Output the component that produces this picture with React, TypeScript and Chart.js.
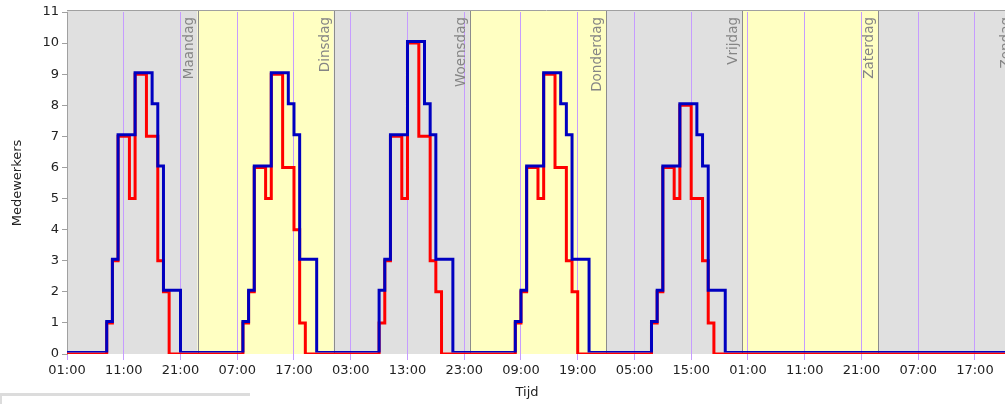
import { useEffect, useRef } from 'react';
import { Chart, registerables } from 'chart.js';

Chart.register(...registerables);

// Hours since midnight of the first day; value holds until next change
const staffHours = [1, 8, 9, 10, 13, 16, 17, 18, 21, 32, 33, 34, 37, 40, 41, 42, 45, 56, 57, 58, 61, 64, 65, 66, 69, 80, 81, 82, 85, 88, 89, 90, 93, 104, 105, 106, 109, 112, 113, 114, 117, 170];
const staffValues = [0, 1, 3, 7, 9, 8, 6, 2, 0, 1, 2, 6, 9, 8, 7, 3, 0, 2, 3, 7, 10, 8, 7, 3, 0, 1, 2, 6, 9, 8, 7, 3, 0, 1, 2, 6, 8, 7, 6, 2, 0, 0];

const demandHours = [1, 8, 9, 10, 12, 13, 15, 17, 18, 19, 32, 33, 34, 36, 37, 39, 41, 42, 43, 56, 57, 58, 60, 61, 63, 65, 66, 67, 80, 81, 82, 84, 85, 87, 89, 90, 91, 104, 105, 106, 108, 109, 111, 113, 114, 115, 170];
const demandValues = [0, 1, 3, 7, 5, 9, 7, 3, 2, 0, 1, 2, 6, 5, 9, 6, 4, 1, 0, 1, 3, 7, 5, 10, 7, 3, 2, 0, 1, 2, 6, 5, 9, 6, 3, 2, 0, 1, 2, 6, 5, 8, 5, 3, 1, 0, 0];

const tickHours = [1, 11, 21, 31, 41, 51, 61, 71, 81, 91, 101, 111, 121, 131, 141, 151, 161];
const tickLabels = ['01:00', '11:00', '21:00', '07:00', '17:00', '03:00', '13:00', '23:00', '09:00', '19:00', '05:00', '15:00', '01:00', '11:00', '21:00', '07:00', '17:00'];

const dayBoundaryHours = [24, 48, 72, 96, 120, 144, 168];
const dayNames = ['Maandag', 'Dinsdag', 'Woensdag', 'Donderdag', 'Vrijdag', 'Zaterdag', 'Zondag'];

const X_MIN = 1;
const X_MAX = 170;
const FONT = 'DejaVu Sans';

const bandPlugin = {
  id: 'dayBands',
  beforeDraw(chart: any) {
    const { ctx, chartArea, scales } = chart;
    const x = scales.x;
    const edges = [X_MIN, ...dayBoundaryHours, X_MAX];
    const top = chartArea.top - 1;
    ctx.save();
    for (let i = 0; i < edges.length - 1; i++) {
      const a = x.getPixelForValue(Math.max(edges[i], X_MIN));
      const b = x.getPixelForValue(Math.min(edges[i + 1], X_MAX));
      ctx.fillStyle = i % 2 === 0 ? '#e0e0e0' : '#ffffc2';
      ctx.fillRect(a, top, b - a, chartArea.bottom - top);
    }
    ctx.restore();
  },
  beforeDatasetsDraw(chart: any) {
    const { ctx, chartArea, scales } = chart;
    const x = scales.x;
    const top = chartArea.top - 1;
    ctx.save();
    ctx.strokeStyle = '#a0a0a0';
    ctx.lineWidth = 1;
    ctx.beginPath();
    ctx.moveTo(chartArea.left, Math.round(top) - 0.5);
    ctx.lineTo(chartArea.right, Math.round(top) - 0.5);
    ctx.stroke();
    dayBoundaryHours.forEach((h, i) => {
      const px = Math.round(x.getPixelForValue(h)) + 0.5;
      ctx.strokeStyle = '#8c8c8c';
      ctx.beginPath();
      ctx.moveTo(px, top);
      ctx.lineTo(px, chartArea.bottom);
      ctx.stroke();
      ctx.save();
      ctx.translate(px - 2.5, top + 6);
      ctx.rotate(-Math.PI / 2);
      ctx.font = `13.5px "${FONT}"`;
      ctx.fillStyle = '#858585';
      ctx.textAlign = 'right';
      ctx.textBaseline = 'bottom';
      ctx.fillText(dayNames[i], 0, 0);
      ctx.restore();
    });
    ctx.restore();
  },
  beforeDatasetDraw(chart: any, args: any) {
    if (chart.data.datasets[args.index].label === 'Ingepland') {
      chart.ctx.save();
      chart.ctx.translate(0, -1.5);
    }
  },
  afterDatasetDraw(chart: any, args: any) {
    if (chart.data.datasets[args.index].label === 'Ingepland') {
      chart.ctx.restore();
    }
  },
  afterDraw(chart: any) {
    const { ctx } = chart;
    ctx.save();
    ctx.font = `13px "${FONT}"`;
    ctx.fillStyle = '#222';
    ctx.textAlign = 'center';
    ctx.textBaseline = 'middle';
    ctx.fillText('Tijd', 527, 393);
    ctx.restore();
  },
};

export default function App() {
  const canvasRef = useRef<HTMLCanvasElement | null>(null);

  useEffect(() => {
    if (!canvasRef.current) return;
    const chart = new Chart(canvasRef.current, {
      type: 'line',
      data: {
        datasets: [
          {
            label: 'Benodigd',
            data: demandHours.map((h, i) => ({ x: h, y: demandValues[i] })),
            borderColor: '#ff0000',
            borderWidth: 3,
            stepped: true,
            pointRadius: 0,
            fill: false,
            borderJoinStyle: 'miter',
            borderCapStyle: 'butt',
            order: 2,
          },
          {
            label: 'Ingepland',
            data: staffHours.map((h, i) => ({ x: h, y: staffValues[i] })),
            borderColor: '#0000c0',
            borderWidth: 3,
            stepped: true,
            pointRadius: 0,
            fill: false,
            borderJoinStyle: 'miter',
            borderCapStyle: 'butt',
            order: 1,
          },
        ],
      },
      options: {
        animation: false,
        responsive: true,
        maintainAspectRatio: false,
        layout: { padding: { left: 0, right: 0, top: 12, bottom: 0 } },
        plugins: {
          legend: { display: false },
          tooltip: { enabled: false },
        },
        font: { family: FONT, size: 13 },
        scales: {
          x: {
            type: 'linear',
            min: X_MIN,
            max: X_MAX,
            afterBuildTicks: (s: any) => {
              s.ticks = tickHours.map((v) => ({ value: v }));
            },
            afterFit: (s: any) => {
              s.height = 50;
            },
            ticks: {
              autoSkip: false,
              maxRotation: 0,
              minRotation: 0,
              color: '#222',
              padding: 3,
              font: { family: FONT, size: 13 },
              callback: (v: any) => {
                const idx = tickHours.indexOf(Number(v));
                return idx >= 0 ? tickLabels[idx] : '';
              },
            },
            grid: {
              color: '#c69cff',
              lineWidth: 1,
              tickLength: 6,
              drawOnChartArea: true,
            },
            border: { display: false },
          },
          y: {
            min: 0,
            max: 11,
            afterFit: (s: any) => {
              s.width = 67;
            },
            ticks: {
              stepSize: 1,
              color: '#222',
              padding: 3,
              font: { family: FONT, size: 13 },
            },
            grid: {
              drawOnChartArea: false,
              drawTicks: true,
              tickLength: 5,
              color: '#a0a0a0',
            },
            border: { display: true, color: '#a0a0a0' },
            title: {
              display: true,
              text: 'Medewerkers',
              color: '#222',
              font: { family: FONT, size: 13 },
              padding: { top: 10, bottom: 0 },
            },
          },
        },
      },
      plugins: [bandPlugin],
    } as any);
    return () => chart.destroy();
  }, []);

  return (
    <div
      style={{
        position: 'fixed',
        left: 0,
        top: 0,
        width: 1005,
        height: 404,
        overflow: 'hidden',
        background: '#fff',
      }}
    >
      <div style={{ position: 'relative', width: 1026, height: 404 }}>
        <canvas ref={canvasRef} />
      </div>
      <div
        style={{
          position: 'absolute',
          left: 0,
          top: 393,
          width: 250,
          height: 11,
          borderTop: '3px solid #dcdcdc',
          borderLeft: '2px solid #dcdcdc',
          boxSizing: 'border-box',
        }}
      />
    </div>
  );
}
